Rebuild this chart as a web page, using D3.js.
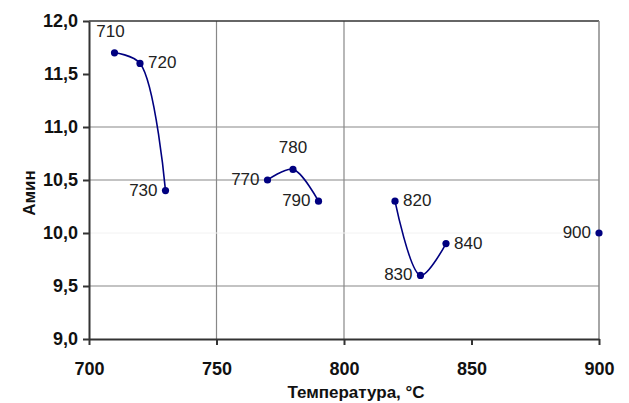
<!DOCTYPE html>
<html>
<head>
<meta charset="utf-8">
<script src="https://cdn.jsdelivr.net/npm/d3@7"></script>
<style>
  body { margin: 0; background: #fff; }
  text { font-family: "Liberation Sans", Arial, sans-serif; }
</style>
</head>
<body>
<svg id="chart" width="629" height="403"></svg>
<script>
// data: temperature groups and Амин values
const temps1 = [710, 720, 730];
const vals1 = [11.7, 11.6, 10.4];
const temps2 = [770, 780, 790];
const vals2 = [10.5, 10.6, 10.3];
const temps3 = [820, 830, 840];
const vals3 = [10.3, 9.6, 9.9];
const temps4 = [900];
const vals4 = [10.0];
const xTicks = [700, 750, 800, 850, 900];
const yTicks = [9.0, 9.5, 10.0, 10.5, 11.0, 11.5, 12.0];

const groups = [[temps1, vals1], [temps2, vals2], [temps3, vals3], [temps4, vals4]]
  .map(([t, v]) => t.map((x, i) => ({x: x, y: v[i]})));

const margin = {top: 21, right: 30, bottom: 64, left: 89};
const svg = d3.select('#chart');
const width = 629 - margin.left - margin.right;
const height = 403 - margin.top - margin.bottom;
const g = svg.append('g').attr('transform', `translate(${margin.left},${margin.top})`);

const xScale = d3.scaleLinear().domain([700, 900]).range([0, width]);
const yScale = d3.scaleLinear().domain([9, 12]).range([height, 0]);
const color = '#000080';

// grid lines (the original keeps only some of them)
const vGrid = [750, 800];
const hGrid = [9.5, 10.5, 11.0];
g.selectAll('.vgrid').data(vGrid).enter().append('line')
  .attr('x1', d => xScale(d)).attr('x2', d => xScale(d))
  .attr('y1', 0).attr('y2', height)
  .style('stroke', '#888').style('stroke-width', 1.2);
g.selectAll('.hgrid').data(hGrid).enter().append('line')
  .attr('x1', 0).attr('x2', width)
  .attr('y1', d => yScale(d)).attr('y2', d => yScale(d))
  .style('stroke', '#888').style('stroke-width', 1.2);
g.append('line')
  .attr('x1', 0).attr('x2', width)
  .attr('y1', yScale(10)).attr('y2', yScale(10))
  .style('stroke', '#f2f2f2');

// frame top & right
g.append('line').attr('x1', 0).attr('x2', width).attr('y1', 0).attr('y2', 0)
  .style('stroke', '#333').style('stroke-width', 1.5);
g.append('line').attr('x1', width).attr('x2', width).attr('y1', 0).attr('y2', height)
  .style('stroke', '#888').style('stroke-width', 1.5);

// axes
const xAxis = g.append('g').attr('class', 'x axis')
  .attr('transform', `translate(0,${height})`)
  .call(d3.axisBottom(xScale).tickValues(xTicks).tickSize(6).tickSizeOuter(0).tickFormat(d3.format('d')));
const yAxis = g.append('g').attr('class', 'y axis')
  .call(d3.axisLeft(yScale).tickValues(yTicks).tickSize(6).tickSizeOuter(0)
    .tickFormat(d => d3.format('.1f')(d).replace('.', ',')));

[xAxis, yAxis].forEach(a => {
  a.select('.domain').style('stroke', '#333').style('stroke-width', 2);
  a.selectAll('.tick line').style('stroke', '#333').style('stroke-width', 2);
  a.selectAll('.tick text')
    .style('font-size', '18px').style('font-weight', 'bold').style('fill', '#111')
    .style('font-family', '"Liberation Sans", Arial, sans-serif');
});
xAxis.selectAll('.tick text').attr('dy', '1.5em');
yAxis.selectAll('.tick text').attr('x', -11);

// smoothed lines
const line = d3.line()
  .x(d => xScale(d.x)).y(d => yScale(d.y))
  .curve(d3.curveCatmullRom.alpha(0.5));

g.selectAll('.line').data(groups.filter(p => p.length > 1)).enter().append('path')
  .attr('class', 'line')
  .attr('d', d => line(d))
  .style('fill', 'none').style('stroke', color).style('stroke-width', 1.6);

const points = groups.flat();
g.selectAll('.dot').data(points).enter().append('circle')
  .attr('cx', d => xScale(d.x)).attr('cy', d => yScale(d.y)).attr('r', 3.6)
  .style('fill', color);

// point labels: offset per label
const labelPos = {
  710: [-4, -16, 'middle'], 720: [8, 5, 'start'], 730: [-8, 5, 'end'],
  770: [-8, 5, 'end'], 780: [0, -16, 'middle'], 790: [-8, 5, 'end'],
  820: [8, 5, 'start'], 830: [-8, 5, 'end'], 840: [8, 5, 'start'],
  900: [-8, 5, 'end']
};
g.selectAll('.plabel').data(points).enter().append('text')
  .attr('x', d => xScale(d.x) + labelPos[d.x][0])
  .attr('y', d => yScale(d.y) + labelPos[d.x][1])
  .attr('text-anchor', d => labelPos[d.x][2])
  .style('font-size', '17px').style('fill', '#222')
  .text(d => d.x);

// axis titles
svg.append('text')
  .attr('transform', 'translate(35,193) rotate(-90)')
  .attr('text-anchor', 'middle')
  .style('font-size', '17px').style('font-weight', 'bold').style('fill', '#111')
  .text('Амин');
svg.append('text')
  .attr('x', 356).attr('y', 398)
  .attr('text-anchor', 'middle')
  .style('font-size', '17px').style('font-weight', 'bold').style('fill', '#111')
  .text('Температура, °С');
</script>
</body>
</html>
